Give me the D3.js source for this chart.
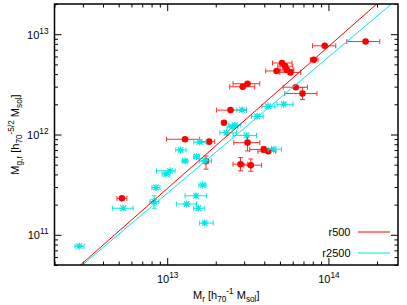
<!DOCTYPE html>
<html>
<head>
<meta charset="utf-8">
<script src="https://cdn.jsdelivr.net/npm/d3@7"></script>
<style>
  body { margin: 0; background: #fff; }
  text { font-family: "Liberation Sans", Arial, sans-serif; }
</style>
</head>
<body>
<div id="chart"></div>
<script>
// axis ranges and labelled decades
const xDomain = [2e12, 2.7e14];
const yDomain = [5e10, 2e13];
const xMajor = [1e13, 1e14];
const yMajor = [1e11, 1e12, 1e13];

// [M, M lo, M hi, Mg, Mg lo, Mg hi]
const r500Points = [
    [1.70e14, 1.30e14, 2.08e14, 8.45e12, 8.45e12, 8.45e12],
    [9.48e13, 7.96e13, 1.11e14, 7.66e12, 7.66e12, 7.66e12],
    [8.11e13, 7.73e13, 8.61e13, 5.56e12, 5.56e12, 5.56e12],
    [5.15e13, 4.50e13, 5.94e13, 5.16e12, 5.16e12, 5.16e12],
    [5.38e13, 4.85e13, 6.01e13, 4.80e12, 4.80e12, 4.80e12],
    [5.51e13, 5.00e13, 6.10e13, 4.43e12, 4.43e12, 4.43e12],
    [4.77e13, 4.08e13, 5.75e13, 4.30e12, 4.30e12, 4.30e12],
    [5.81e13, 4.99e13, 6.73e13, 4.16e12, 4.16e12, 4.16e12],
    [6.27e13, 5.24e13, 7.41e13, 2.96e12, 2.96e12, 2.96e12],
    [6.90e13, 5.36e13, 8.49e13, 2.56e12, 2.23e12, 2.94e12],
    [3.15e13, 2.56e13, 3.75e13, 3.21e12, 3.21e12, 3.21e12],
    [2.94e13, 2.44e13, 3.49e13, 2.99e12, 2.99e12, 2.99e12],
    [2.47e13, 2.02e13, 3.10e13, 1.75e12, 1.75e12, 1.75e12],
    [2.25e13, 2.25e13, 2.25e13, 1.31e12, 1.31e12, 1.31e12],
    [1.29e13, 9.91e12, 1.59e13, 8.96e11, 8.96e11, 8.96e11],
    [1.82e13, 1.63e13, 1.97e13, 8.49e11, 8.49e11, 8.49e11],
    [3.15e13, 2.59e13, 3.75e13, 8.30e11, 6.85e11, 9.66e11],
    [3.97e13, 3.25e13, 4.44e13, 7.08e11, 6.60e11, 7.60e11],
    [4.23e13, 3.65e13, 4.71e13, 6.81e11, 6.81e11, 6.81e11],
    [2.85e13, 2.56e13, 3.16e13, 5.06e11, 4.34e11, 5.89e11],
    [3.30e13, 2.99e13, 3.85e13, 4.94e11, 4.30e11, 5.70e11],
    [1.74e13, 1.70e13, 1.78e13, 5.42e11, 4.51e11, 6.11e11],
    [5.24e12, 4.88e12, 5.62e12, 2.31e11, 2.31e11, 2.31e11]
];

const r2500Points = [
    [4.23e13, 3.86e13, 4.65e13, 1.91e12, 1.91e12, 1.91e12],
    [5.28e13, 4.80e13, 6.04e13, 2.00e12, 2.00e12, 2.00e12],
    [2.91e13, 2.70e13, 3.10e13, 1.76e12, 1.76e12, 1.76e12],
    [3.61e13, 3.33e13, 3.94e13, 1.52e12, 1.52e12, 1.52e12],
    [2.63e13, 2.41e13, 2.86e13, 1.24e12, 1.24e12, 1.24e12],
    [2.53e13, 2.35e13, 2.75e13, 1.19e12, 1.19e12, 1.19e12],
    [2.33e13, 2.12e13, 2.69e13, 1.04e12, 1.04e12, 1.04e12],
    [3.10e13, 2.56e13, 3.58e13, 9.80e11, 9.80e11, 9.80e11],
    [4.58e13, 4.23e13, 5.12e13, 7.13e11, 7.13e11, 7.13e11],
    [1.59e13, 1.46e13, 1.74e13, 8.41e11, 8.41e11, 8.41e11],
    [1.21e13, 1.13e13, 1.31e13, 7.02e11, 7.02e11, 7.02e11],
    [1.71e13, 1.59e13, 1.88e13, 5.46e11, 5.46e11, 5.46e11],
    [1.29e13, 1.24e13, 1.34e13, 5.46e11, 5.46e11, 5.46e11],
    [1.52e13, 1.46e13, 1.58e13, 6.03e11, 6.03e11, 6.03e11],
    [1.04e13, 8.59e12, 1.12e13, 4.34e11, 4.34e11, 4.34e11],
    [9.82e12, 9.30e12, 1.04e13, 4.03e11, 4.03e11, 4.03e11],
    [8.51e12, 8.04e12, 9.02e12, 2.96e11, 2.96e11, 2.96e11],
    [8.30e12, 7.81e12, 8.87e12, 2.14e11, 1.84e11, 2.45e11],
    [1.66e13, 1.57e13, 1.74e13, 3.13e11, 3.13e11, 3.13e11],
    [1.51e13, 1.29e13, 1.75e13, 2.45e11, 2.45e11, 2.45e11],
    [1.32e13, 1.14e13, 1.52e13, 2.03e11, 2.03e11, 2.03e11],
    [1.56e13, 1.46e13, 1.71e13, 1.84e11, 1.84e11, 1.84e11],
    [1.71e13, 1.59e13, 1.93e13, 1.31e11, 1.31e11, 1.31e11],
    [5.33e12, 4.57e12, 6.15e12, 1.84e11, 1.84e11, 1.84e11],
    [2.85e12, 2.68e12, 3.05e12, 7.71e10, 7.71e10, 7.71e10]
];

// power-law fits: Mg = norm * (M / 1e13)^slope
const fitNames = ["r500", "r2500"];
const fitNorm = [2.89e11, 2.59e11];
const fitSlope = [1.416, 1.358];
const fitColors = ["#ff0000", "#00e8e8"];

const width = 407, height = 305;
const margin = { top: 4, right: 9, bottom: 40, left: 54.5 };
const plotW = width - margin.left - margin.right;
const plotH = height - margin.top - margin.bottom;

const svg = d3.select("#chart")
    .append("svg")
    .attr("width", width)
    .attr("height", height)
    .append("g")
    .attr("transform", `translate(${margin.left},${margin.top})`);

const x = d3.scaleLog().domain(xDomain).range([0, plotW]);
const y = d3.scaleLog().domain(yDomain).range([plotH, 0]);

function minorTicks(domain) {
    const out = [];
    for (let e = Math.floor(Math.log10(domain[0])); e <= Math.ceil(Math.log10(domain[1])); e++) {
        for (let k = 1; k < 10; k++) {
            const v = k * Math.pow(10, e);
            if (v >= domain[0] && v <= domain[1] && k > 1) out.push(v);
        }
    }
    return out;
}

// text with sub/superscripts: parts = [[text, "n"|"sub"|"sup"], ...]
function richText(sel, parts, size) {
    let cur = 0;
    parts.forEach(([t, kind]) => {
        const target = kind === "sub" ? 3 : kind === "sup" ? -5 : 0;
        sel.append("tspan")
            .attr("dy", target - cur)
            .style("font-size", kind === "n" ? size + "px" : (size * 0.75) + "px")
            .text(t);
        cur = target;
    });
}

function styleAxis(g) {
    g.select(".domain").remove();
    g.selectAll(".tick line").attr("stroke", "#000").attr("stroke-width", 1);
}

// ticks (inward, mirrored)
svg.append("g").attr("transform", `translate(0,${plotH})`)
    .call(d3.axisBottom(x).tickValues(minorTicks(xDomain)).tickSize(-3.5).tickFormat(""))
    .call(styleAxis);
svg.append("g")
    .call(d3.axisTop(x).tickValues(minorTicks(xDomain)).tickSize(-3.5).tickFormat(""))
    .call(styleAxis);
svg.append("g")
    .call(d3.axisLeft(y).tickValues(minorTicks(yDomain)).tickSize(-3.5).tickFormat(""))
    .call(styleAxis);
svg.append("g").attr("transform", `translate(${plotW},0)`)
    .call(d3.axisRight(y).tickValues(minorTicks(yDomain)).tickSize(-3.5).tickFormat(""))
    .call(styleAxis);

const xAxis = svg.append("g").attr("transform", `translate(0,${plotH})`)
    .call(d3.axisBottom(x).tickValues(xMajor).tickSize(-7).tickPadding(10).tickFormat(""))
    .call(styleAxis);
svg.append("g")
    .call(d3.axisTop(x).tickValues(xMajor).tickSize(-7).tickFormat(""))
    .call(styleAxis);
const yAxis = svg.append("g")
    .call(d3.axisLeft(y).tickValues(yMajor).tickSize(-7).tickPadding(6).tickFormat(""))
    .call(styleAxis);
svg.append("g").attr("transform", `translate(${plotW},0)`)
    .call(d3.axisRight(y).tickValues(yMajor).tickSize(-7).tickFormat(""))
    .call(styleAxis);

xAxis.selectAll(".tick text").each(function (d) {
    const t = d3.select(this).attr("dy", null).attr("y", 18).attr("fill", "#000");
    richText(t, [["10", "n"], [String(Math.round(Math.log10(d))), "sup"]], 11);
});
yAxis.selectAll(".tick text").each(function (d) {
    const t = d3.select(this).attr("dy", null).attr("y", 4).attr("x", -6).attr("fill", "#000");
    richText(t, [["10", "n"], [String(Math.round(Math.log10(d))), "sup"]], 11);
});

// clip for fit lines
svg.append("clipPath").attr("id", "clip")
    .append("rect").attr("width", plotW).attr("height", plotH);

function drawErrors(points, color) {
    const g = svg.append("g").attr("stroke", color).attr("stroke-width", 1).attr("fill", "none");
    points.forEach(p => {
        const cx = x(p[0]), cy = y(p[3]);
        if (p[2] > p[1]) {
            g.append("line").attr("x1", x(p[1])).attr("x2", x(p[2])).attr("y1", cy).attr("y2", cy);
            g.append("line").attr("x1", x(p[1])).attr("x2", x(p[1])).attr("y1", cy - 2.5).attr("y2", cy + 2.5);
            g.append("line").attr("x1", x(p[2])).attr("x2", x(p[2])).attr("y1", cy - 2.5).attr("y2", cy + 2.5);
        }
        if (p[5] > p[4]) {
            g.append("line").attr("x1", cx).attr("x2", cx).attr("y1", y(p[4])).attr("y2", y(p[5]));
            g.append("line").attr("x1", cx - 2.5).attr("x2", cx + 2.5).attr("y1", y(p[4])).attr("y2", y(p[4]));
            g.append("line").attr("x1", cx - 2.5).attr("x2", cx + 2.5).attr("y1", y(p[5])).attr("y2", y(p[5]));
        }
    });
}

drawErrors(r500Points, "#ff3030");
svg.selectAll(".r500")
    .data(r500Points)
    .enter().append("circle")
    .attr("class", "r500")
    .attr("cx", d => x(d[0]))
    .attr("cy", d => y(d[3]))
    .attr("r", 3.3)
    .attr("fill", "#ff0000");

drawErrors(r2500Points, "#00e8e8");
svg.selectAll(".r2500")
    .data(r2500Points)
    .enter().append("path")
    .attr("class", "r2500")
    .attr("transform", d => `translate(${x(d[0])},${y(d[3])})`)
    .attr("d", "M-3.5,0H3.5M0,-3.5V3.5M-2.8,-2.8L2.8,2.8M-2.8,2.8L2.8,-2.8")
    .attr("stroke", "#00e8e8")
    .attr("stroke-width", 1.2)
    .attr("fill", "none");

// fit lines
const fitLine = d3.line().x(d => x(d[0])).y(d => y(d[1]));
fitNames.forEach((name, i) => {
    const pts = [1e12, 1e15].map(m => [m, fitNorm[i] * Math.pow(m / 1e13, fitSlope[i])]);
    svg.append("path")
        .attr("d", fitLine(pts))
        .attr("clip-path", "url(#clip)")
        .attr("stroke", fitColors[i])
        .attr("stroke-width", 1)
        .attr("fill", "none");

    const ly = 228 + i * 21;
    svg.append("text")
        .attr("x", 296)
        .attr("y", ly + 4)
        .attr("text-anchor", "end")
        .style("font-size", "11px")
        .text(name);
    svg.append("line")
        .attr("x1", 303.5).attr("x2", 335.5)
        .attr("y1", ly).attr("y2", ly)
        .attr("stroke", fitColors[i])
        .attr("stroke-width", 1);
});

// frame
svg.append("rect")
    .attr("width", plotW)
    .attr("height", plotH)
    .attr("fill", "none")
    .attr("stroke", "#000")
    .attr("stroke-width", 1.5);

// axis titles
const xt = svg.append("text")
    .attr("x", plotW / 2)
    .attr("y", plotH + 34)
    .attr("text-anchor", "middle");
richText(xt, [["M", "n"], ["r", "sub"], [" [h", "n"], ["70", "sub"], ["-1", "sup"], [" M", "n"], ["sol", "sub"], ["]", "n"]], 11);

const yt = svg.append("text")
    .attr("transform", `translate(${-36},${plotH / 2}) rotate(-90)`)
    .attr("text-anchor", "middle");
richText(yt, [["M", "n"], ["g,r", "sub"], [" [h", "n"], ["70", "sub"], ["-5/2", "sup"], [" M", "n"], ["sol", "sub"], ["]", "n"]], 11);
</script>
</body>
</html>
